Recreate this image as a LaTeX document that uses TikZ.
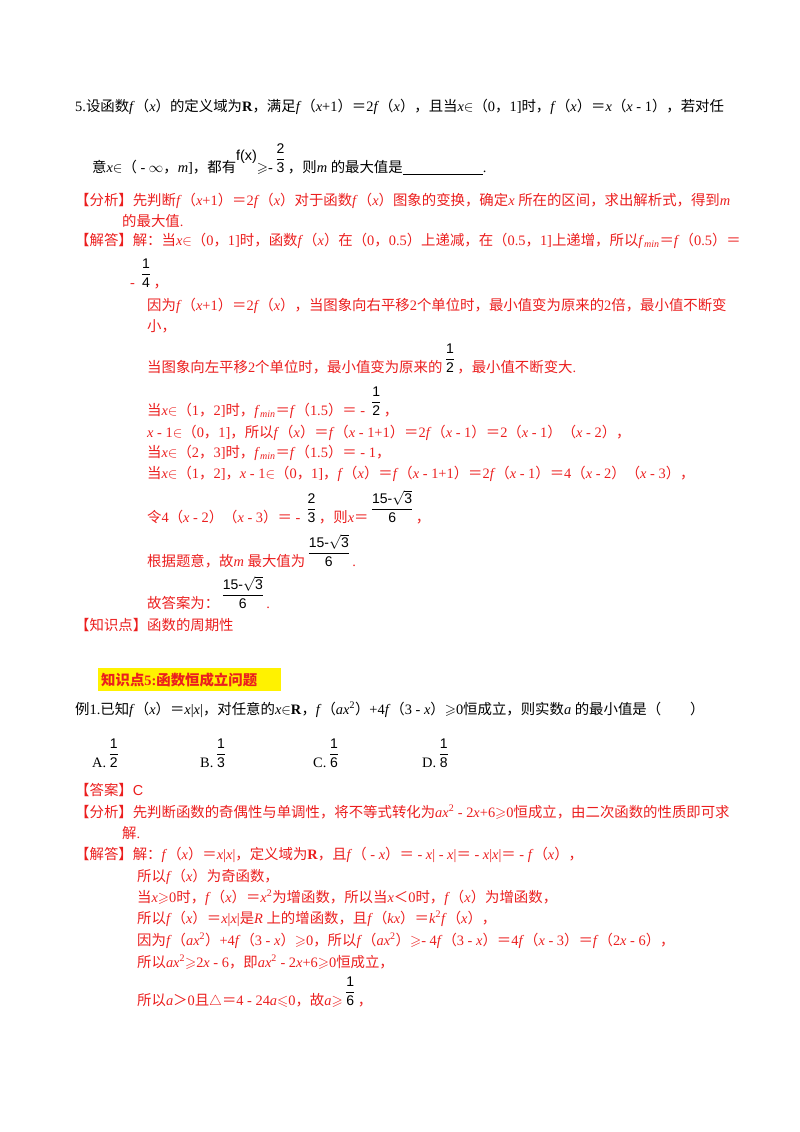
\documentclass[tikz,border=0pt]{standalone}
\usepackage{amsmath,amssymb}
\usepackage{fontspec}
\setmainfont{Liberation Serif}
\setsansfont{Liberation Sans}
\newfontfamily\cjk{Noto Sans CJK SC}
\XeTeXinterchartokenstate=1
\newXeTeXintercharclass\CJKcl
\newcount\cc
\cc="3000 \loop \XeTeXcharclass\cc=\CJKcl \advance\cc1 \ifnum\cc<"3040 \repeat
\cc="4E00 \loop \XeTeXcharclass\cc=\CJKcl \advance\cc1 \ifnum\cc<"A000 \repeat
\cc="FF00 \loop \XeTeXcharclass\cc=\CJKcl \advance\cc1 \ifnum\cc<"FFF0 \repeat
\XeTeXinterchartoks 0 \CJKcl = {\cjk}
\XeTeXinterchartoks 4095 \CJKcl = {\cjk}
\XeTeXinterchartoks \CJKcl 0 = {\rmfamily}
\XeTeXinterchartoks \CJKcl 4095 = {\rmfamily}
\definecolor{rd}{RGB}{235,30,30}
\newcommand\I[1]{\textit{#1}}
\newcommand\fx{\I{f}（\I{x}）}
\newcommand\fmin{\I{f}\textsubscript{\I{min}}}
\newcommand\fr[2]{{\color{black}\,\raisebox{9pt}{$\genfrac{}{}{0.6pt}{0}{\mbox{\sffamily\fontsize{14}{14}\selectfont #1}}{\mbox{\sffamily\fontsize{14}{14}\selectfont #2}}$}\,}}
\newcommand\sq{15-$\sqrt{\mbox{3}}$}
\newcommand\Ge{$\geqslant$}
\newcommand\Le{$\leqslant$}
\begin{document}
\begin{tikzpicture}[x=1pt,y=-1pt,
  t/.style={anchor=base west,inner sep=0pt,font=\fontsize{14.4}{16}\selectfont},
  r/.style={t,text=rd}]
\useasboundingbox (0,0) rectangle (800,1132);
\node[t] (l1) at (75,111) {5.设函数\fx 的定义域为\textbf{R}，满足\I{f}（\I{x}+1）＝2\fx，且当\I{x}$\in$（0，1]时，\fx＝\I{x}（\I{x} - 1），若对任};
\node[t] (l2) at (92,172) {意\I{x}$\in$（ - $\infty$，\I{m}]，都有\raisebox{12pt}{\sffamily f(x)}$\geqslant$-\fr{2}{3}，则\I{m} 的最大值是\underline{\hspace{80pt}}.};
\node[r] (a1) at (75,205) {【分析】先判断\I{f}（\I{x}+1）＝2\fx 对于函数\fx 图象的变换，确定\I{x} 所在的区间，求出解析式，得到\I{m}};
\node[r] (a2) at (122,226) {的最大值.};
\node[r] (b1) at (75,245) {【解答】解：当\I{x}$\in$（0，1]时，函数\fx 在（0，0.5）上递减，在（0.5，1]上递增，所以\fmin＝\I{f}（0.5）＝};
\node[r] (b2) at (130,287) {- \fr{1}{4}，};
\node[r] (b3) at (147,310) {因为\I{f}（\I{x}+1）＝2\fx，当图象向右平移2个单位时，最小值变为原来的2倍，最小值不断变};
\node[r] (b4) at (147,331) {小，};
\node[r] (b5) at (147,372) {当图象向左平移2个单位时，最小值变为原来的\fr{1}{2}，最小值不断变大.};
\node[r] (b6) at (147,415) {当\I{x}$\in$（1，2]时，\fmin＝\I{f}（1.5）＝ - \fr{1}{2}，};
\node[r] (b7) at (147,437) {\I{x} - 1$\in$（0，1]，所以\fx＝\I{f}（\I{x} - 1+1）＝2\I{f}（\I{x} - 1）＝2（\I{x} - 1）（\I{x} - 2），};
\node[r] (b8) at (147,457) {当\I{x}$\in$（2，3]时，\fmin＝\I{f}（1.5）＝ - 1，};
\node[r] (b9) at (147,478) {当\I{x}$\in$（1，2]，\I{x} - 1$\in$（0，1]，\fx＝\I{f}（\I{x} - 1+1）＝2\I{f}（\I{x} - 1）＝4（\I{x} - 2）（\I{x} - 3），};
\node[r] (b10) at (147,522) {令4（\I{x} - 2）（\I{x} - 3）＝ - \fr{2}{3}，则\I{x}＝\fr{\sq}{6}，};
\node[r] (b11) at (147,566) {根据题意，故\I{m} 最大值为\fr{\sq}{6}.};
\node[r] (b12) at (147,608) {故答案为：\fr{\sq}{6}.};
\node[r] (k1) at (75,630) {【知识点】函数的周期性};
\fill[yellow] (98,668) rectangle (281,691);
\node[r,font=\fontsize{14.4}{16}\selectfont\bfseries] (h) at (101,685) {知识点5:函数恒成立问题};
\node[t] (e1) at (75,714) {例1.已知\fx＝\I{x}|\I{x}|，对任意的\I{x}$\in$\textbf{R}，\I{f}（\I{ax}\textsuperscript{2}）+4\I{f}（3 - \I{x}）\Ge 0恒成立，则实数\I{a} 的最小值是（\qquad）};
\node[t] (oA) at (92,767) {A.\fr{1}{2}};
\node[t] (oB) at (200,767) {B.\fr{1}{3}};
\node[t] (oC) at (313,767) {C.\fr{1}{6}};
\node[t] (oD) at (422,767) {D.\fr{1}{8}};
\node[r] (c1) at (75,795) {【答案】\textsf{C}};
\node[r] (c2) at (75,817) {【分析】先判断函数的奇偶性与单调性，将不等式转化为\I{ax}\textsuperscript{2} - 2\I{x}+6\Ge 0恒成立，由二次函数的性质即可求};
\node[r] (c3) at (122,838) {解.};
\node[r] (d1) at (75,859) {【解答】解：\fx＝\I{x}|\I{x}|，定义域为\textbf{R}，且\I{f}（ - \I{x}）＝ - \I{x}| - \I{x}|＝ - \I{x}|\I{x}|＝ - \fx，};
\node[r] (d2) at (137,881) {所以\fx 为奇函数，};
\node[r] (d3) at (137,902) {当\I{x}\Ge 0时，\fx＝\I{x}\textsuperscript{2}为增函数，所以当\I{x}＜0时，\fx 为增函数，};
\node[r] (d4) at (137,923) {所以\fx＝\I{x}|\I{x}|是\I{R} 上的增函数，且\I{f}（\I{kx}）＝\I{k}\textsuperscript{2}\fx，};
\node[r] (d5) at (137,945) {因为\I{f}（\I{ax}\textsuperscript{2}）+4\I{f}（3 - \I{x}）\Ge 0，所以\I{f}（\I{ax}\textsuperscript{2}）\Ge - 4\I{f}（3 - \I{x}）＝4\I{f}（\I{x} - 3）＝\I{f}（2\I{x} - 6），};
\node[r] (d6) at (137,967) {所以\I{ax}\textsuperscript{2}\Ge 2\I{x} - 6，即\I{ax}\textsuperscript{2} - 2\I{x}+6\Ge 0恒成立，};
\node[r] (d7) at (137,1005) {所以\I{a}＞0且$\triangle$＝4 - 24\I{a}\Le 0，故\I{a}\Ge\fr{1}{6}，};
\end{tikzpicture}
\end{document}
